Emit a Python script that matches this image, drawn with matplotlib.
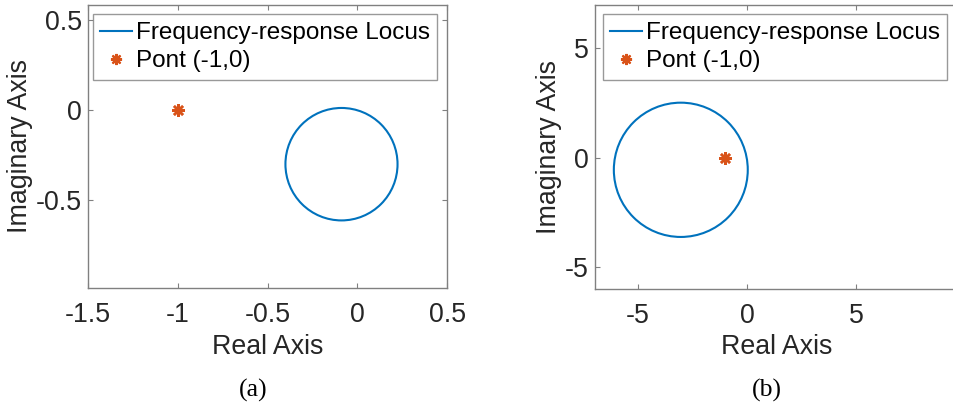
import numpy as np
import matplotlib
matplotlib.use("Agg")
import matplotlib.pyplot as plt
from matplotlib.patches import Circle
from matplotlib.lines import Line2D

# lecture sur l'image : lieu de reponse en frequence (cercle) + point critique
loci_centers = [(-0.089, -0.300), (-3.03, -0.55)]
loci_radius = [0.312, 3.07]
crit_point = (-1.0, 0.0)
xlims = [(-1.5, 0.5), (-6.95, 9.61)]
ylims = [(-0.987, 0.585), (-6.0, 7.0)]
xticks = [[-1.5, -1, -0.5, 0, 0.5], [-5, 0, 5]]
xticklabels = [["-1.5", "-1", "-0.5", "0", "0.5"], ["-5", "0", "5"]]
yticks = [[-0.5, 0, 0.5], [-5, 0, 5]]
yticklabels = [["-0.5", "0", "0.5"], ["-5", "0", "5"]]
captions = ["(a)", "(b)"]
legend_labels = ["Frequency-response Locus", "Pont (-1,0)"]

blue = "#0072BD"
orange = "#D95319"
grey = "#808080"

plt.rcParams["font.family"] = ["Liberation Sans", "DejaVu Sans"]

W, H = 954, 407
fig = plt.figure(figsize=(W / 100, H / 100), dpi=100)

# positions en pixels (x0, y_top, x1, y_bottom)
boxes = [(88, 4.7, 447.3, 288), (595.3, 4.7, 956.5, 289)]
legend_corner = [(437.3, 14.3), (947.3, 14.3)]
ylabel_x = [33, 561.7]
xlabel_x = [268, 777]
caption_x = [253, 767]

for i in range(2):
    x0, yt, x1, yb = boxes[i]
    ax = fig.add_axes([x0 / W, 1 - yb / H, (x1 - x0) / W, (yb - yt) / H])
    circ = Circle(loci_centers[i], loci_radius[i], fill=False, ec=blue, lw=1.5)
    ax.add_patch(circ)
    ax.plot([crit_point[0]], [crit_point[1]], linestyle="none", marker=(8, 2, 0),
            ms=9, mew=1.8, color=orange)
    ax.set_xlim(*xlims[i])
    ax.set_ylim(*ylims[i])
    ax.set_xticks(xticks[i])
    ax.set_xticklabels(xticklabels[i])
    ax.set_yticks(yticks[i])
    ax.set_yticklabels(yticklabels[i])
    ax.tick_params(direction="in", top=True, right=(i == 0), length=3.5, width=0.8,
                   color=grey, labelsize=19.3, labelcolor="#262626")
    ax.tick_params(axis="x", pad=10)
    ax.tick_params(axis="y", pad=4.5)
    for sp in ax.spines.values():
        sp.set_color(grey)
        sp.set_linewidth(1.0)
    ax.set_xlabel("Real Axis", fontsize=19.3, color="#262626")
    ax.set_ylabel("Imaginary Axis", fontsize=19.3, color="#262626")
    axw = x1 - x0
    axh = yb - yt
    ax.xaxis.set_label_coords((xlabel_x[i] - x0) / axw, (yb - 334) / axh)
    ax.yaxis.set_label_coords((ylabel_x[i] - x0) / axw, 0.5)

    handles = [Line2D([], [], color=blue, lw=1.5),
               Line2D([], [], linestyle="none", marker=(8, 2, 0), ms=8, mew=1.6, color=orange)]
    lx, ly = legend_corner[i]
    leg = ax.legend(handles, legend_labels, loc="upper right",
                    bbox_to_anchor=(lx / W, 1 - ly / H), bbox_transform=fig.transFigure,
                    fontsize=17.5, frameon=True, fancybox=False, borderaxespad=0,
                    handlelength=1.3, handletextpad=0.15, borderpad=0.32, labelspacing=0.25)
    leg.get_frame().set_edgecolor(grey)
    leg.get_frame().set_linewidth(1.0)

    fig.text(caption_x[i] / W, 1 - 390 / H, captions[i], ha="center", va="center",
             fontsize=18.5, family=["Liberation Serif", "DejaVu Serif"])

fig.savefig("out.png", dpi=100)
